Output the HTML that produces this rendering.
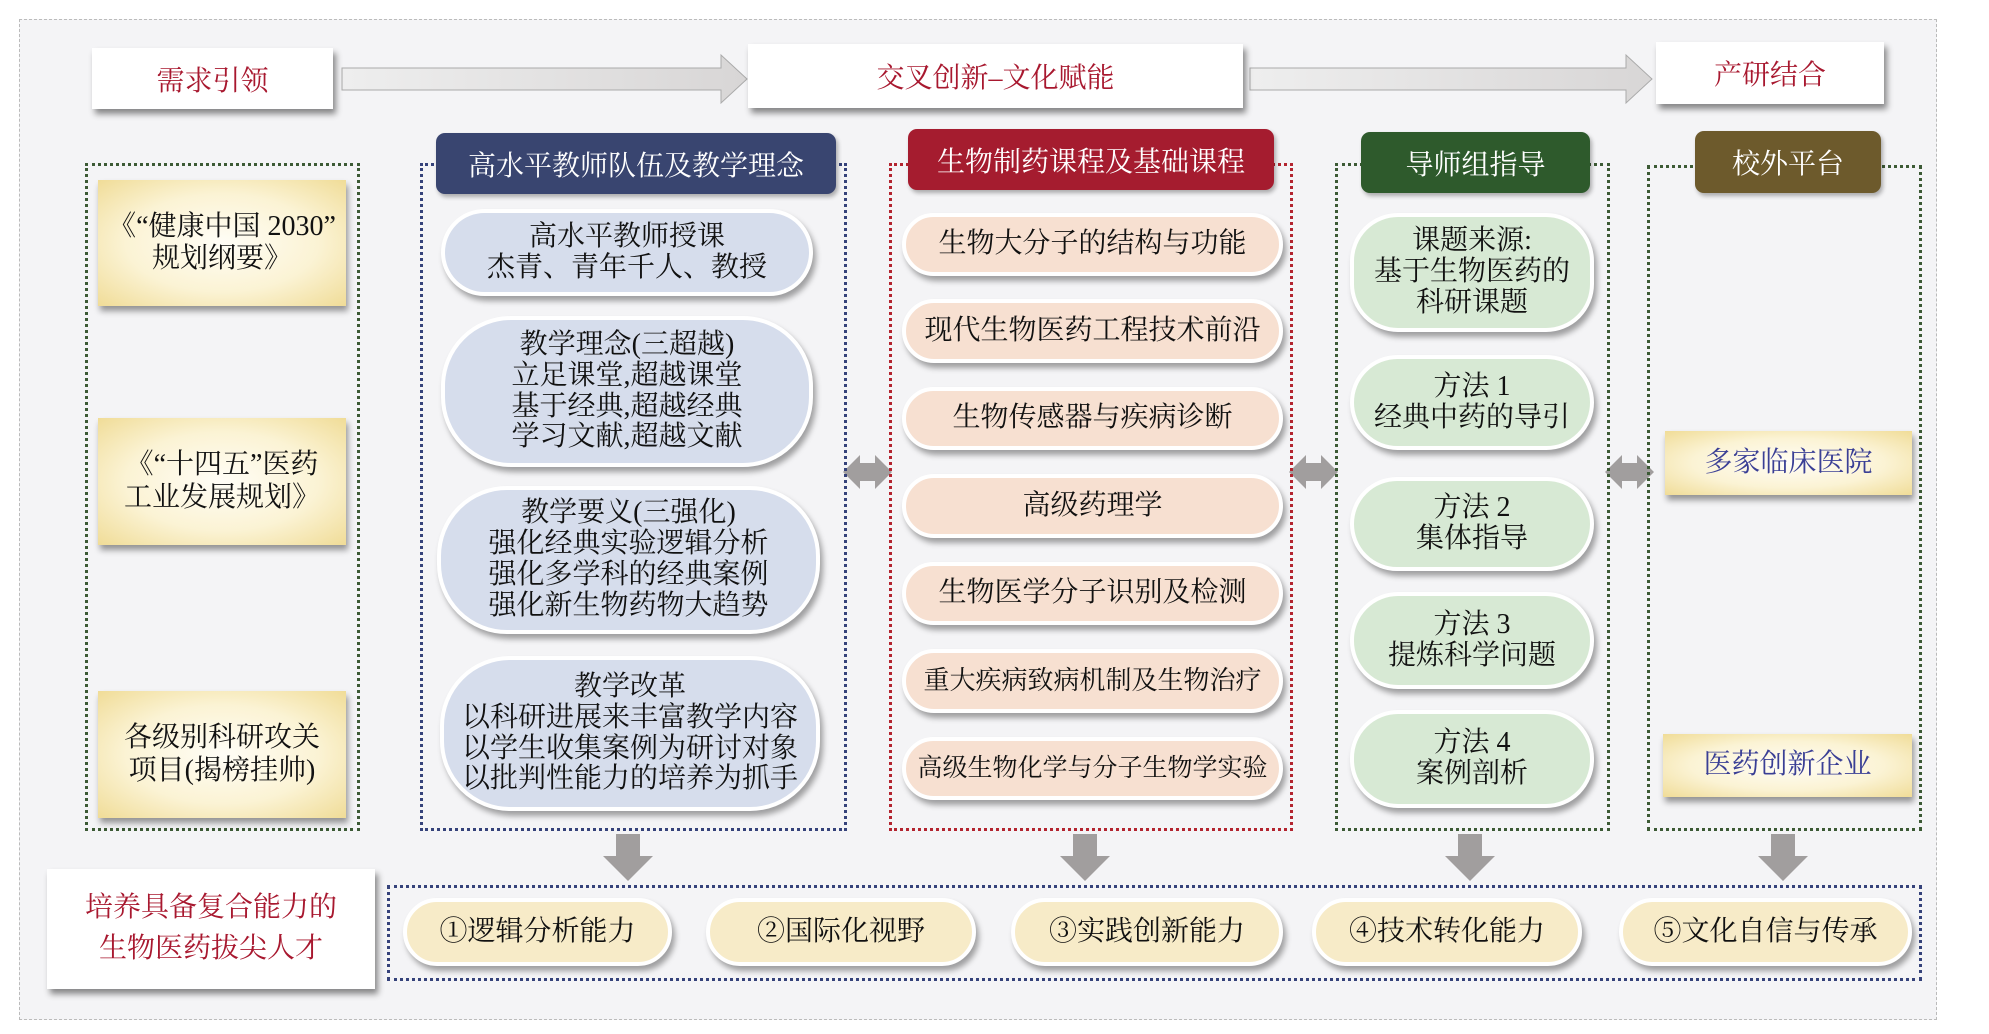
<!DOCTYPE html>
<html><head><meta charset="utf-8"><style>
*{margin:0;padding:0;box-sizing:border-box}
body{width:1989px;height:1034px;background:#fff;position:relative;overflow:hidden;font-family:"Liberation Serif","Noto Serif CJK SC",serif;}
.a{position:absolute}
.c{display:flex;align-items:center;justify-content:center;text-align:center;flex-direction:column}
.wb{background:#fff;box-shadow:3px 5px 6px rgba(0,0,0,.45);color:#a8182f;font-size:28px}
.hd{color:#fff;font-size:28px;border-radius:9px;box-shadow:2px 3px 4px rgba(0,0,0,.3)}
.pill{border:4px solid #fff;box-shadow:3px 5px 6px rgba(0,0,0,.35);font-size:28px;color:#111;line-height:1.1}
.bl{background:#d6ddec;border-radius:70px}
.or{background:#f7e0d1;border-radius:34px}
.gr{background:#d7e9d4;border-radius:48px}
.ye{background:#f7ebc8;border-radius:36px}
.card{background:radial-gradient(ellipse at center,#fffdf6 0%,#fbf3d4 55%,#f0dc97 100%);box-shadow:2px 5px 6px rgba(0,0,0,.4);font-size:28px;color:#111;line-height:1.15}
.dot{border:3px dotted}
</style></head><body>
<div class="a" style="left:19px;top:19px;width:1918px;height:1001px;background:#f4f4f6;border:1px dashed #bbb"></div>

<svg class="a" style="left:0;top:0" width="1989" height="1034">
<defs><linearGradient id="g" x1="0" x2="1"><stop offset="0" stop-color="#eeeeee"/><stop offset="1" stop-color="#d8d6d6"/></linearGradient></defs>
<polygon points="342,68 721,68 721,55 747,79 721,103 721,90 342,90" fill="url(#g)" stroke="#aaa"/>
<polygon points="1250,68 1626,68 1626,55 1652,79 1626,103 1626,90 1250,90" fill="url(#g)" stroke="#aaa"/>
<g fill="#a19e9e">
<polygon points="843,472 860,455 860,463 875,463 875,455 892,472 875,489 875,481 860,481 860,489"/>
<polygon points="1289,472 1306,455 1306,463 1321,463 1321,455 1338,472 1321,489 1321,481 1306,481 1306,489"/>
<polygon points="1605,472 1622,455 1622,463 1637,463 1637,455 1654,472 1637,489 1637,481 1622,481 1622,489"/>
<polygon points="616,834 640,834 640,856 653,856 628,881 603,856 616,856"/>
<polygon points="1073,834 1097,834 1097,856 1110,856 1085,881 1060,856 1073,856"/>
<polygon points="1458,834 1482,834 1482,856 1495,856 1470,881 1445,856 1458,856"/>
<polygon points="1771,834 1795,834 1795,856 1808,856 1783,881 1758,856 1771,856"/>
</g>
</svg>

<div class="a c wb" style="left:92px;top:48px;width:241px;height:61px">需求引领</div>
<div class="a c wb" style="left:748px;top:44px;width:495px;height:64px">交叉创新–文化赋能</div>
<div class="a c wb" style="left:1656px;top:42px;width:228px;height:62px">产研结合</div>

<!-- dotted boxes -->
<div class="a dot" style="left:85px;top:163px;width:275px;height:668px;border-color:#3c5a35"></div>
<div class="a dot" style="left:420px;top:163px;width:427px;height:668px;border-color:#35427a"></div>
<div class="a dot" style="left:889px;top:163px;width:404px;height:668px;border-color:#b3242f"></div>
<div class="a dot" style="left:1335px;top:163px;width:275px;height:668px;border-color:#3c5a35"></div>
<div class="a dot" style="left:1647px;top:165px;width:275px;height:666px;border-color:#3c5a35"></div>
<div class="a dot" style="left:387px;top:885px;width:1535px;height:96px;border-color:#35427a"></div>

<!-- headers -->
<div class="a c hd" style="left:436px;top:133px;width:400px;height:61px;background:#394570">高水平教师队伍及教学理念</div>
<div class="a c hd" style="left:908px;top:129px;width:366px;height:61px;background:#a51c2f">生物制药课程及基础课程</div>
<div class="a c hd" style="left:1361px;top:132px;width:229px;height:61px;background:#2e5a2c">导师组指导</div>
<div class="a c hd" style="left:1695px;top:131px;width:186px;height:62px;background:#6d5a2c">校外平台</div>

<!-- col1 cards -->
<div class="a c card" style="left:98px;top:180px;width:248px;height:126px">《“健康中国 2030”<br>规划纲要》</div>
<div class="a c card" style="left:98px;top:418px;width:248px;height:127px">《“十四五”医药<br>工业发展规划》</div>
<div class="a c card" style="left:98px;top:691px;width:248px;height:127px">各级别科研攻关<br>项目(揭榜挂帅)</div>

<!-- col2 -->
<div class="a c pill bl" style="left:441px;top:209px;width:372px;height:87px">高水平教师授课<br>杰青、青年千人、教授</div>
<div class="a c pill bl" style="left:441px;top:316px;width:372px;height:151px">教学理念(三超越)<br>立足课堂,超越课堂<br>基于经典,超越经典<br>学习文献,超越文献</div>
<div class="a c pill bl" style="left:437px;top:486px;width:383px;height:148px">教学要义(三强化)<br>强化经典实验逻辑分析<br>强化多学科的经典案例<br>强化新生物药物大趋势</div>
<div class="a c pill bl" style="left:440px;top:656px;width:380px;height:155px">教学改革<br>以科研进展来丰富教学内容<br>以学生收集案例为研讨对象<br>以批判性能力的培养为抓手</div>

<!-- col3 -->
<div class="a c pill or" style="left:902px;top:213px;width:381px;height:63px">生物大分子的结构与功能</div>
<div class="a c pill or" style="left:902px;top:299px;width:381px;height:64px">现代生物医药工程技术前沿</div>
<div class="a c pill or" style="left:902px;top:387px;width:381px;height:63px">生物传感器与疾病诊断</div>
<div class="a c pill or" style="left:902px;top:474px;width:381px;height:64px">高级药理学</div>
<div class="a c pill or" style="left:902px;top:562px;width:381px;height:63px">生物医学分子识别及检测</div>
<div class="a c pill or" style="left:902px;top:649px;width:381px;height:64px;font-size:26px">重大疾病致病机制及生物治疗</div>
<div class="a c pill or" style="left:902px;top:737px;width:381px;height:63px;font-size:25px">高级生物化学与分子生物学实验</div>

<!-- col4 -->
<div class="a c pill gr" style="left:1350px;top:213px;width:244px;height:119px">课题来源:<br>基于生物医药的<br>科研课题</div>
<div class="a c pill gr" style="left:1350px;top:355px;width:244px;height:95px">方法 1<br>经典中药的导引</div>
<div class="a c pill gr" style="left:1350px;top:477px;width:244px;height:94px">方法 2<br>集体指导</div>
<div class="a c pill gr" style="left:1350px;top:592px;width:244px;height:97px">方法 3<br>提炼科学问题</div>
<div class="a c pill gr" style="left:1350px;top:710px;width:244px;height:98px">方法 4<br>案例剖析</div>

<!-- col5 -->
<div class="a c card" style="left:1665px;top:431px;width:247px;height:64px;color:#3a3f95">多家临床医院</div>
<div class="a c card" style="left:1663px;top:734px;width:249px;height:63px;color:#3a3f95">医药创新企业</div>

<!-- bottom -->
<div class="a c wb" style="left:47px;top:869px;width:328px;height:120px;line-height:1.45">培养具备复合能力的<br>生物医药拔尖人才</div>
<div class="a c pill ye" style="left:403px;top:898px;width:269px;height:68px">①逻辑分析能力</div>
<div class="a c pill ye" style="left:706px;top:898px;width:270px;height:68px">②国际化视野</div>
<div class="a c pill ye" style="left:1011px;top:898px;width:272px;height:68px">③实践创新能力</div>
<div class="a c pill ye" style="left:1312px;top:898px;width:270px;height:68px">④技术转化能力</div>
<div class="a c pill ye" style="left:1619px;top:898px;width:293px;height:68px">⑤文化自信与传承</div>
</body></html>
